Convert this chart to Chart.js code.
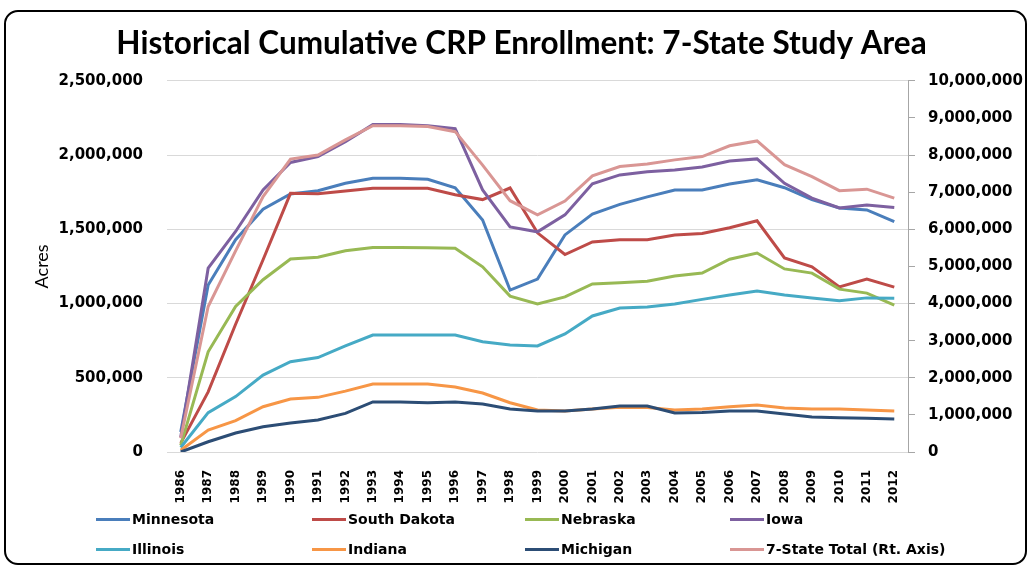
<!DOCTYPE html>
<html>
<head>
<meta charset="utf-8">
<title>Historical Cumulative CRP Enrollment</title>
<script src="https://cdn.jsdelivr.net/npm/chart.js@4.4.1/dist/chart.umd.min.js"></script>
<style>
  html, body { margin: 0; padding: 0; background: #fff; }
  #wrap { position: relative; width: 1029px; height: 568px; overflow: hidden; }
  #frame { position: absolute; left: 4px; top: 10px; width: 1019px; height: 551px;
           border: 2px solid #000; border-radius: 14px; }
  #chart { position: absolute; left: 0; top: 0; }
  .item { position: absolute; display: flex; align-items: center; height: 20px; margin-top: -10px;
          font: bold 14px 'DejaVu Sans', sans-serif; color: #000; white-space: nowrap; }
  .swatch { width: 34px; height: 3px; margin-right: 2px; }
</style>
</head>
<body>
<div id="wrap">
  <div id="frame"></div>
  <canvas id="chart" width="1029" height="568"></canvas>
  <div id="legend"></div>
</div>
<script>
// values (acres)
const years = ['1986','1987','1988','1989','1990','1991','1992','1993','1994','1995','1996','1997','1998','1999',
  '2000','2001','2002','2003','2004','2005','2006','2007','2008','2009','2010','2011','2012'];

const minnesota = [135000,1125000,1430000,1635000,1738000,1760000,1810000,1843000,1843000,1837000,1780000,1562000,1090000,1165000,
  1462000,1603000,1668000,1718000,1765000,1765000,1805000,1833000,1780000,1700000,1644000,1630000,1552000];
const southDakota = [60000,405000,860000,1295000,1742000,1740000,1758000,1776000,1776000,1776000,1732000,1700000,1778000,1476000,
  1330000,1415000,1430000,1430000,1462000,1472000,1510000,1557000,1307000,1247000,1112000,1165000,1110000];
const nebraska = [45000,675000,980000,1160000,1300000,1312000,1355000,1378000,1378000,1376000,1372000,1247000,1050000,997000,
  1045000,1132000,1140000,1150000,1186000,1205000,1298000,1340000,1233000,1205000,1097000,1070000,990000];
const iowa = [100000,1238000,1485000,1765000,1950000,1990000,2090000,2205000,2205000,2198000,2177000,1765000,1516000,1483000,
  1597000,1806000,1866000,1887000,1900000,1920000,1960000,1974000,1810000,1710000,1644000,1664000,1647000];
const illinois = [30000,265000,373000,518000,608000,636000,714000,788000,788000,788000,788000,742000,720000,714000,
  795000,916000,970000,977000,997000,1028000,1058000,1085000,1058000,1037000,1018000,1038000,1036000];
const indiana = [12000,148000,211000,305000,357000,368000,410000,458000,458000,458000,438000,397000,332000,283000,
  276000,290000,302000,300000,283000,290000,305000,317000,296000,290000,289000,283000,276000];
const michigan = [0,69000,128000,170000,195000,216000,260000,337000,337000,332000,337000,323000,290000,276000,
  276000,290000,310000,310000,263000,266000,276000,276000,256000,236000,231000,228000,222000];
const stateTotal = [370000,3920000,5420000,6880000,7890000,8000000,8410000,8790000,8790000,8770000,8630000,7730000,6770000,6390000,
  6760000,7440000,7690000,7760000,7870000,7960000,8250000,8380000,7740000,7420000,7040000,7080000,6840000];

const seriesNames = ['Minnesota','South Dakota','Nebraska','Iowa','Illinois','Indiana','Michigan','7-State Total (Rt. Axis)'];
const seriesColors = ['#4a7ebb','#be4b48','#98b954','#7d60a0','#46aac5','#f79646','#2c4d75','#d99694'];
const seriesValues = [minnesota, southDakota, nebraska, iowa, illinois, indiana, michigan, stateTotal];

const tickFont = { family: "'DejaVu Sans', sans-serif", size: 15, weight: 'bold' };

function fmt(v) {
  return Number(v).toLocaleString('en-US');
}

const datasets = seriesNames.map(function (name, i) {
  const isTotal = i === seriesNames.length - 1;
  return {
    label: name,
    data: seriesValues[i],
    borderColor: seriesColors[i],
    backgroundColor: seriesColors[i],
    yAxisID: isTotal ? 'y2' : 'y',
    order: isTotal ? 0 : seriesNames.length - i
  };
});

const chart = new Chart(document.getElementById('chart'), {
  type: 'line',
  data: { labels: years, datasets: datasets },
  options: {
    responsive: false,
    animation: false,
    layout: { padding: { left: 14, top: 0, right: 0, bottom: 0 } },
    elements: {
      point: { radius: 0, hoverRadius: 0 },
      line: { borderWidth: 3, tension: 0 }
    },
    plugins: {
      legend: { display: false },
      tooltip: { enabled: false },
      title: {
        display: true,
        text: 'Historical Cumulative CRP Enrollment: 7-State Study Area',
        color: '#000',
        font: { family: "Lato, sans-serif", size: 31.5, weight: 'bold' },
        padding: { top: 25, bottom: 18 }
      }
    },
    scales: {
      x: {
        offset: true,
        grid: { display: false },
        border: { display: false },
        ticks: {
          autoSkip: false, minRotation: 90, maxRotation: 90, padding: 10,
          color: '#000', font: { family: "'DejaVu Sans', sans-serif", size: 12, weight: 'bold' }
        },
        afterFit: function (s) { s.height = 116; }
      },
      y: {
        position: 'left',
        min: 0, max: 2500000,
        grid: { color: '#d9d9d9', drawTicks: false },
        border: { display: false },
        ticks: { stepSize: 500000, padding: 24, color: '#000', font: tickFont, callback: fmt },
        title: {
          display: true, text: 'Acres', color: '#000',
          font: { family: "Lato, sans-serif", size: 18 },
          padding: { top: 17, bottom: 0 }
        },
        afterFit: function (s) { s.width = 153; }
      },
      y2: {
        position: 'right',
        min: 0, max: 10000000,
        grid: { drawOnChartArea: false, color: '#a6a6a6', tickLength: 7 },
        border: { color: '#a6a6a6' },
        ticks: { stepSize: 1000000, padding: 13, color: '#000', font: tickFont, callback: fmt },
        afterFit: function (s) { s.width = 121; }
      }
    }
  }
});

// legend laid out in 4 columns / 2 rows like the original
const legendCols = [96, 312, 525, 730];
const legendRows = [519, 549];
const legendEl = document.getElementById('legend');
chart.data.datasets.forEach(function (ds, i) {
  const item = document.createElement('div');
  item.className = 'item';
  item.style.left = legendCols[i % 4] + 'px';
  item.style.top = legendRows[Math.floor(i / 4)] + 'px';
  const sw = document.createElement('span');
  sw.className = 'swatch';
  sw.style.background = ds.borderColor;
  const txt = document.createElement('span');
  txt.textContent = ds.label;
  item.appendChild(sw);
  item.appendChild(txt);
  legendEl.appendChild(item);
});
</script>
</body>
</html>
